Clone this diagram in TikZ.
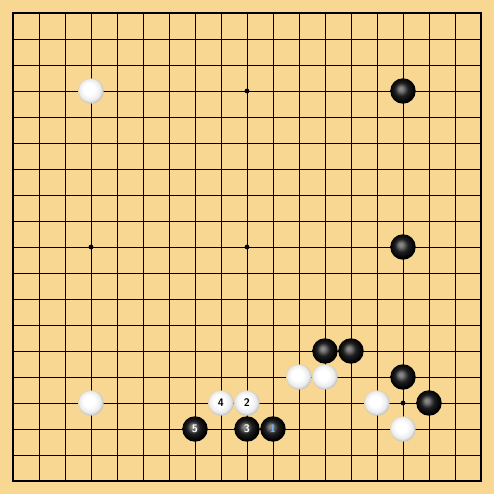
\documentclass[tikz,border=0pt]{standalone}
\usepackage{tikz}
\usetikzlibrary{calc}
\definecolor{boardwood}{RGB}{247,215,145}
\definecolor{movelabel}{RGB}{120,185,255}
\pgfdeclareradialshading{whiteball}{\pgfpoint{-5bp}{5bp}}{%
    color(0bp)=(white); color(11bp)=(white); color(21bp)=(black!8);
    color(29bp)=(black!35); color(40bp)=(black!35)}
\pgfdeclareradialshading{blackball}{\pgfpoint{-5bp}{5bp}}{%
    color(0bp)=(black!45); color(4bp)=(black!50); color(13bp)=(black!88);
    color(24bp)=(black); color(40bp)=(black)}
\tikzset{
    stone/.style={circle, inner sep=0pt, minimum size=0.98cm*0.5,
        font=\sffamily\bfseries\fontsize{6}{6}\selectfont},
    bstone/.style={stone, shading=blackball, text=white},
    wstone/.style={stone, shading=whiteball, text=black},
    hoshi/.style={circle, fill=black, inner sep=0pt, minimum size=2.6pt}
}

\begin{document}
\begin{tikzpicture}[x=0.5cm, y=-0.5cm]
    % Board background
    \fill[boardwood] (0,0) rectangle (19,19);
    \useasboundingbox (0,0) rectangle (19,19);

    % Grid lines
    \foreach \i in {1,...,17} {
        \draw[line width=0.5pt] (\i+0.5,0.5) -- (\i+0.5,18.5);
        \draw[line width=0.5pt] (0.5,\i+0.5) -- (18.5,\i+0.5);
    }
    \draw[line width=1.1pt] (0.5,0.5) rectangle (18.5,18.5);

    % Star points
    \foreach \c in {3,9,15} {
        \foreach \r in {3,9,15} {
            \node[hoshi] (star-\c-\r) at (\c+0.5,\r+0.5) {};
        }
    }

    % Black stones
    \node[bstone] (b-p16) at (15.5,3.5) {};
    \node[bstone] (b-p10) at (15.5,9.5) {};
    \node[bstone] (b-m6) at (12.5,13.5) {};
    \node[bstone] (b-n6) at (13.5,13.5) {};
    \node[bstone] (b-p5) at (15.5,14.5) {};
    \node[bstone] (b-q4) at (16.5,15.5) {};

    % White stones
    \node[wstone] (w-d16) at (3.5,3.5) {};
    \node[wstone] (w-l5) at (11.5,14.5) {};
    \node[wstone] (w-m5) at (12.5,14.5) {};
    \node[wstone] (w-d4) at (3.5,15.5) {};
    \node[wstone] (w-o4) at (14.5,15.5) {};
    \node[wstone] (w-p3) at (15.5,16.5) {};

    % Numbered moves
    \node[bstone, text=movelabel] (mv1) at (10.5,16.5) {1};
    \node[wstone] (mv2) at (9.5,15.5) {2};
    \node[bstone] (mv3) at (9.5,16.5) {3};
    \node[wstone] (mv4) at (8.5,15.5) {4};
    \node[bstone] (mv5) at (7.5,16.5) {5};
\end{tikzpicture}
\end{document}
